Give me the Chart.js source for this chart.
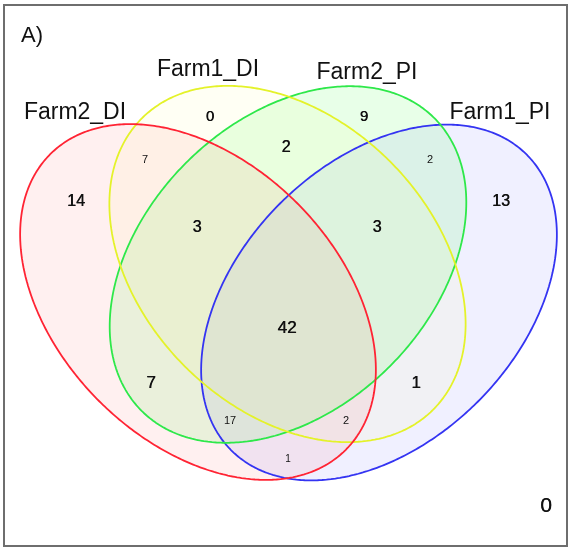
<!DOCTYPE html>
<html>
<head>
<meta charset="utf-8">
<script src="https://cdn.jsdelivr.net/npm/chart.js@4"></script>
<style>
  html, body { margin: 0; padding: 0; background: #ffffff; }
  canvas { display: block; }
</style>
</head>
<body>
<canvas id="venn" width="571" height="549"></canvas>
<script>
// Four-set Venn diagram of shared items between farms.
const setNames = ["Farm2_DI", "Farm1_DI", "Farm2_PI", "Farm1_PI"];
const setStroke = ["#ff2434", "#e4f22a", "#2ee84a", "#3434f2"];
const setFill = ["rgba(255,0,0,0.06)", "rgba(255,255,0,0.045)", "rgba(0,255,0,0.09)", "rgba(0,0,255,0.06)"];

// Ellipse geometry in plot units (x right, y down): centre, semi-axes, tilt in degrees.
const ellipseCx = [198, 287.5, 288, 379];
const ellipseCy = [302, 264, 264.5, 302.5];
const ellipseA = [209, 206, 207, 209];
const ellipseB = [140, 145, 144, 140];
const ellipseTilt = [45, 45, -45, -45];

// Set-name label anchors
const nameX = [75, 208, 367, 500];
const nameY = [113, 70, 73, 113];

// Region counts, keyed by membership (F2DI, F1DI, F2PI, F1PI)
const regionKeys = ["1000", "0100", "0010", "0001", "1100", "0110", "0011", "1110", "0111", "1111", "1010", "1011", "1001", "0101", "1101", "0000"];
const regionCounts = [14, 0, 9, 13, 7, 2, 2, 3, 3, 42, 7, 17, 1, 1, 2, 0];
// Where each region count is written, and its font size
const regionX = [76, 210, 364, 501, 145, 286, 430, 197, 377, 287, 151, 230, 288, 416, 346, 546];
const regionY = [202, 117, 117, 202, 160, 148, 160, 228, 228, 328, 383, 421, 459, 383, 421, 506];
const regionSize = [16, 15, 15, 16, 11, 16, 11, 16, 16, 17, 17, 11, 10, 17, 11, 21];

function ellipsePoints(i) {
  const pts = [];
  const th = ellipseTilt[i] * Math.PI / 180;
  const n = 240;
  for (let k = 0; k <= n; k++) {
    const t = (k / n) * 2 * Math.PI;
    const ca = ellipseA[i] * Math.cos(t), sb = ellipseB[i] * Math.sin(t);
    pts.push({
      x: ellipseCx[i] + ca * Math.cos(th) - sb * Math.sin(th),
      y: ellipseCy[i] + ca * Math.sin(th) + sb * Math.cos(th)
    });
  }
  return pts;
}

const datasets = setNames.map((name, i) => ({
  label: name,
  data: ellipsePoints(i),
  showLine: true,
  fill: 'shape',
  backgroundColor: setFill[i],
  borderColor: setStroke[i],
  borderWidth: 1.8,
  pointRadius: 0,
  tension: 0.01
}));

const textPlugin = {
  id: 'vennText',
  afterDraw(chart) {
    const ctx = chart.ctx;
    const xs = chart.scales.x, ys = chart.scales.y;
    ctx.save();
    // frame
    ctx.strokeStyle = "#6e6e6e";
    ctx.lineWidth = 2;
    ctx.strokeRect(xs.getPixelForValue(4), ys.getPixelForValue(5),
      xs.getPixelForValue(567) - xs.getPixelForValue(4),
      ys.getPixelForValue(546) - ys.getPixelForValue(5));
    ctx.fillStyle = "#111111";
    ctx.textBaseline = "middle";
    // panel tag
    ctx.textAlign = "left";
    ctx.font = "22px 'Liberation Sans', Arial, sans-serif";
    ctx.fillText("A)", xs.getPixelForValue(21), ys.getPixelForValue(36));
    // set names
    ctx.textAlign = "center";
    ctx.font = "23px 'Liberation Sans', Arial, sans-serif";
    setNames.forEach((nm, i) => {
      ctx.fillText(nm, xs.getPixelForValue(nameX[i]), ys.getPixelForValue(nameY[i]));
    });
    // region counts
    regionCounts.forEach((c, i) => {
      ctx.font = regionSize[i] + "px 'Liberation Sans', Arial, sans-serif";
      const px = xs.getPixelForValue(regionX[i]), py = ys.getPixelForValue(regionY[i]);
      ctx.fillText(String(c), px, py);
      if (regionSize[i] >= 15) {
        // slightly heavier strokes for the main counts
        ctx.fillText(String(c), px + 0.4, py);
      }
    });
    ctx.restore();
  }
};

new Chart(document.getElementById('venn'), {
  type: 'scatter',
  data: { datasets },
  options: {
    responsive: false,
    animation: false,
    devicePixelRatio: 1,
    layout: { padding: 0 },
    scales: {
      x: { type: 'linear', min: 0, max: 571, display: false },
      y: { type: 'linear', min: 0, max: 549, reverse: true, display: false }
    },
    plugins: {
      legend: { display: false },
      tooltip: { enabled: false },
      filler: { drawTime: 'beforeDatasetsDraw' }
    }
  },
  plugins: [textPlugin]
});
</script>
</body>
</html>
